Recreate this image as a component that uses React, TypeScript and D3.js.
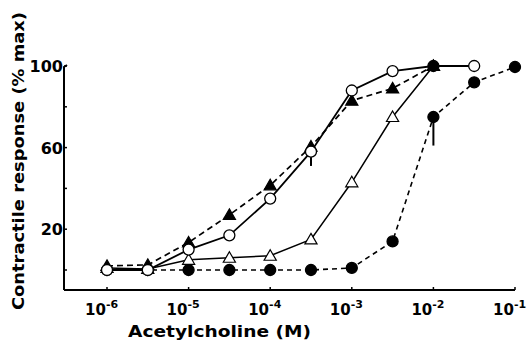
import { useEffect, useRef } from 'react';
import * as d3 from 'd3';

const concentrations = [1e-6, 3.16e-6, 1e-5, 3.16e-5, 1e-4, 3.16e-4, 1e-3, 3.16e-3, 1e-2, 3.16e-2, 1e-1];

// % max response per series (null = not measured)
const openCircles   = [0, 0, 10, 17, 35, 58, 88, 97.5, 100, 100, null];
const filledTris    = [2, 2.5, 13.5, 27, 41.5, 60.5, 83, 89, 100, null, null];
const openTris      = [1, 0.5, 5, 6, 7, 15, 43, 75, 100, null, null];
const filledCircles = [0, 0, 0, 0, 0, 0, 1, 14, 75, 92, 99.5];

// drug-addition marks (x, y in % where the mark starts)
const arrowMarks = [
  { x: 3.16e-4, y: 58, len: 7 },
  { x: 1e-2, y: 75, len: 14 },
];

const xTicks = [-6, -5, -4, -3, -2, -1];
const yTicks = [0, 20, 40, 60, 80, 100];
const yLabels = [20, 60, 100];

const W = 528, H = 344;
const FONT = '"DejaVu Sans", sans-serif';

export default function App() {
  const ref = useRef<SVGSVGElement>(null);

  useEffect(() => {
    const svg = d3.select(ref.current);
    svg.selectAll('*').remove();

    const x = d3.scaleLog().domain([1e-6, 1e-1]).range([107, 515]);
    const y = d3.scaleLinear().domain([0, 100]).range([270, 66]);
    const axisY = 290, axisX = 64;

    // axes
    svg.append('line').attr('x1', axisX).attr('x2', x(1e-1)).attr('y1', axisY).attr('y2', axisY)
      .attr('stroke', '#000').attr('stroke-width', 2);
    svg.append('path').attr('d', `M${axisX + 3},${y(100) - 1}L${axisX},${y(100) + 1}L${axisX},${axisY}`)
      .attr('fill', 'none').attr('stroke', '#000').attr('stroke-width', 2);

    xTicks.forEach(p => {
      const xx = x(Math.pow(10, p));
      svg.append('line').attr('x1', xx).attr('x2', xx).attr('y1', axisY).attr('y2', axisY - 3)
        .attr('stroke', '#000').attr('stroke-width', 1.5);
      const t = svg.append('text').attr('x', xx - 22).attr('y', 315)
        .style('font-family', FONT).style('font-size', '15px').style('font-weight', 'bold').style('fill', '#000');
      t.append('tspan').text('10');
      t.append('tspan').attr('dy', -7).style('font-size', '11px').text(`-${-p}`);
    });

    yTicks.forEach(v => {
      svg.append('line').attr('x1', axisX).attr('x2', axisX + 3).attr('y1', y(v)).attr('y2', y(v))
        .attr('stroke', '#000').attr('stroke-width', 1.5);
    });
    yLabels.forEach(v => {
      svg.append('text').attr('x', axisX - 1).attr('y', y(v) + 6).attr('text-anchor', 'end')
        .style('font-family', FONT).style('font-size', '16px').style('font-weight', 'bold')
        .style('fill', '#000').text(v);
    });

    svg.append('text').attr('x', 128).attr('y', 337)
      .attr('textLength', 183).attr('lengthAdjust', 'spacingAndGlyphs')
      .style('font-family', FONT).style('font-size', '16px').style('font-weight', 'bold')
      .style('fill', '#000').text('Acetylcholine (M)');
    svg.append('text').attr('transform', 'translate(24,310) rotate(-90)')
      .attr('textLength', 298).attr('lengthAdjust', 'spacingAndGlyphs')
      .style('font-family', FONT).style('font-size', '16px').style('font-weight', 'bold')
      .style('fill', '#000').text('Contractile response (% max)');

    const toPts = (vals: (number | null)[]) =>
      vals.map((v, i) => ({ c: concentrations[i], v })).filter(d => d.v !== null) as { c: number; v: number }[];

    const line = d3.line<{ c: number; v: number }>().x(d => x(d.c)).y(d => y(d.v));

    const series = [
      { vals: filledCircles, dash: '5,4', width: 1.6, marker: 'circle', fill: '#000' },
      { vals: openTris, dash: null, width: 1.5, marker: 'triangle', fill: '#fff' },
      { vals: filledTris, dash: '6,4', width: 1.7, marker: 'triangle', fill: '#000' },
      { vals: openCircles, dash: null, width: 1.8, marker: 'circle', fill: '#fff' },
    ];

    series.forEach(s => {
      svg.append('path').attr('d', line(toPts(s.vals))).attr('fill', 'none')
        .attr('stroke', '#000').attr('stroke-width', s.width)
        .attr('stroke-dasharray', s.dash ?? null);
    });

    arrowMarks.forEach(a => {
      svg.append('line').attr('x1', x(a.x)).attr('x2', x(a.x)).attr('y1', y(a.y))
        .attr('y2', y(a.y) + a.len * 2.04).attr('stroke', '#000').attr('stroke-width', 2);
    });

    const tri = d3.symbol().type(d3.symbolTriangle).size(64);
    series.forEach(s => {
      toPts(s.vals).forEach(d => {
        if (s.marker === 'circle') {
          svg.append('circle').attr('cx', x(d.c)).attr('cy', y(d.v)).attr('r', 5.5)
            .attr('fill', s.fill).attr('stroke', '#000').attr('stroke-width', 1.3);
        } else {
          svg.append('path').attr('d', tri()).attr('transform', `translate(${x(d.c)},${y(d.v) + 1})`)
            .attr('fill', s.fill).attr('stroke', '#000').attr('stroke-width', 1.2);
        }
      });
    });

    // the 10^-2 / 100% point where the curves meet is printed as a filled circle
    svg.append('circle').attr('cx', x(1e-2)).attr('cy', y(100)).attr('r', 5.5).attr('fill', '#000');
  }, []);

  return (
    <svg ref={ref} width={W} height={H}
      style={{ position: 'absolute', left: 0, top: 0, background: '#fff' }} />
  );
}
